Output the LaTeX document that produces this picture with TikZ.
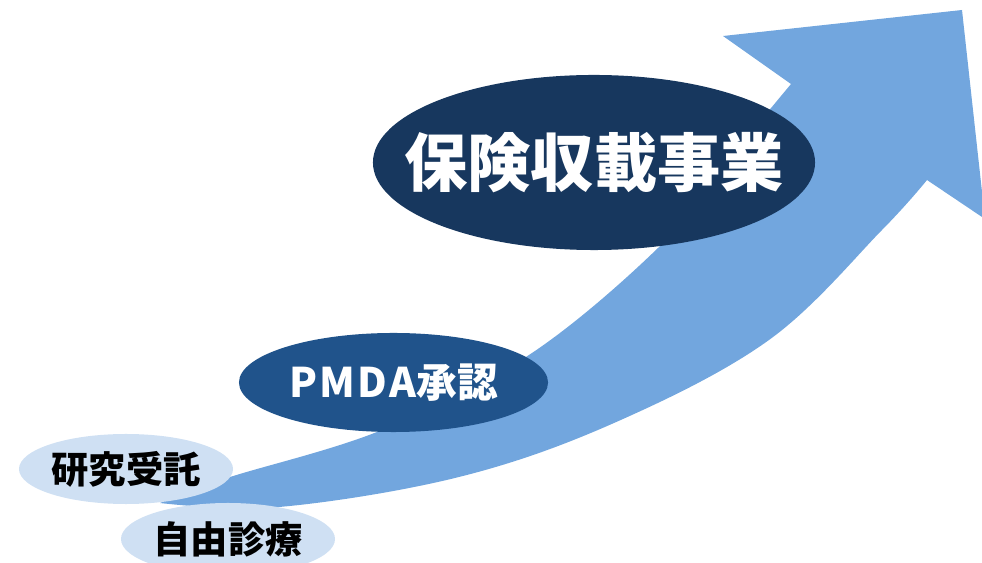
\documentclass[tikz,border=0pt]{standalone}
\usepackage{fontspec}
\usepackage{xcolor}
\usetikzlibrary{shapes.geometric}
\newfontfamily\jp{Noto Sans CJK JP}
\definecolor{arrowblue}{HTML}{72A6DE}
\definecolor{navy}{HTML}{17375E}
\definecolor{midblue}{HTML}{20538B}
\definecolor{paleblue}{HTML}{CFE0F3}
\begin{document}
\begin{tikzpicture}[x=0.025cm,y=-0.025cm,
  ovl/.style={ellipse,inner sep=0pt,draw=none},
  bigovl/.style={ovl,fill=navy,minimum width=11.05cm,minimum height=4.375cm},
  midovl/.style={ovl,fill=midblue,minimum width=7.725cm,minimum height=2.475cm},
  smallovl/.style={ovl,fill=paleblue,minimum width=5.35cm,minimum height=1.75cm},
  txt/.style={inner sep=0pt,font=\jp\bfseries}]
\useasboundingbox (0,0) rectangle (982,563);
\clip (0,0) rectangle (982,563);
% rising arrow
\fill [arrowblue] (791,84) -- (723,36) -- (962,10) -- (985,219) -- (927,180)
  -- plot [smooth,tension=0.6] coordinates {(927,180) (882,230) (769,340) (614,423) (459,477) (279,507) (160,503)}
  -- plot [smooth,tension=0.6] coordinates {(160,503) (227,478) (382,430) (529,355) (658,248) (720,170) (791,84)}
  -- cycle;
% steps
\node [bigovl] (hoken) at (594,162.5) {};
\node [txt,white,font=\jp\bfseries\fontsize{45}{50}\selectfont] (hokenT) at (hoken.center) {保険収載事業};
\node [midovl] (pmda) at (393.5,382.5) {};
\node [txt,white,font=\jp\bfseries\fontsize{29}{32}\selectfont] (pmdaT) at (pmda.center) {{\addfontfeature{LetterSpace=6}PMDA}承認};
\node [smallovl] (kenkyu) at (126,469) {};
\node [txt,black,font=\jp\bfseries\fontsize{26.5}{30}\selectfont] (kenkyuT) at (kenkyu.center) {研究受託};
\node [smallovl,minimum height=1.8cm] (jiyu) at (228,539) {};
\node [txt,black,font=\jp\bfseries\fontsize{26.5}{30}\selectfont] (jiyuT) at (jiyu.center) {自由診療};
\end{tikzpicture}
\end{document}
